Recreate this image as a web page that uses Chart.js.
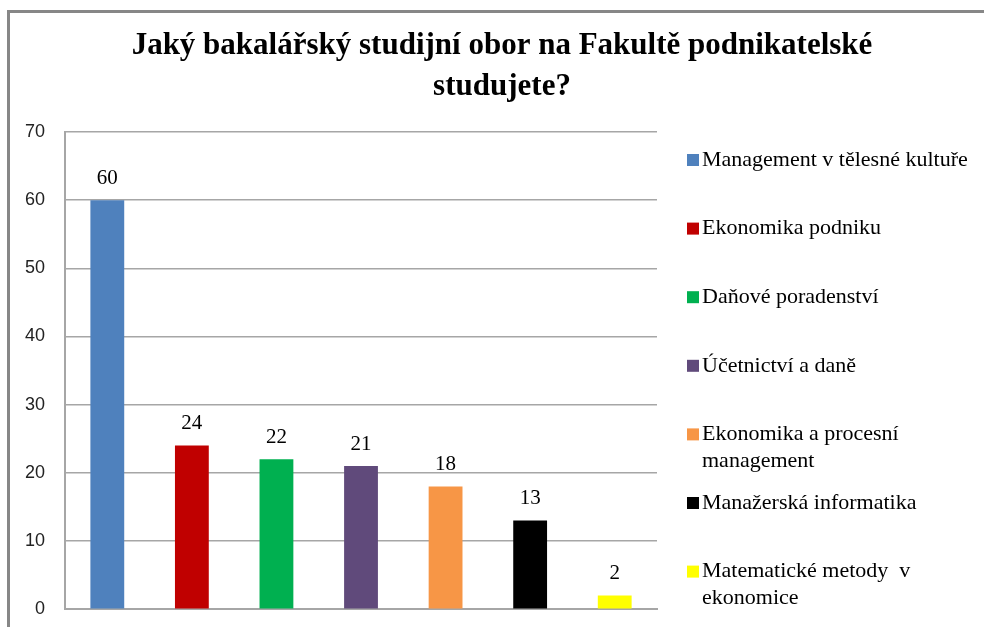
<!DOCTYPE html>
<html>
<head>
<meta charset="utf-8">
<script src="https://cdn.jsdelivr.net/npm/chart.js@4.4.1/dist/chart.umd.min.js"></script>
<style>
html, body { margin: 0; padding: 0; background: #fff; }
#wrap { width: 984px; height: 627px; position: relative; }
</style>
</head>
<body>
<div id="wrap"><canvas id="graf"></canvas></div>
<script>
// data
var titulek = ['Jaký bakalářský studijní obor na Fakultě podnikatelské', 'studujete?'];
var obory = [
	'Management v tělesné kultuře',
	'Ekonomika podniku',
	'Daňové poradenství',
	'Účetnictví a daně',
	'Ekonomika a procesní management',
	'Manažerská informatika',
	'Matematické metody  v ekonomice'
];
var pocty = [60, 24, 22, 21, 18, 13, 2];
var barvy = ['#4F81BD', '#C00000', '#00B050', '#604A7B', '#F79646', '#000000', '#FFFF00'];
var osaY = { min: 0, max: 70, krok: 10 };

function zalom(ctx, text, maxW) {
	var slova = text.split(' ');
	var radky = [];
	var akt = '';
	slova.forEach(function(s) {
		var zkus = akt ? akt + ' ' + s : s;
		if (akt && ctx.measureText(zkus).width > maxW) {
			radky.push(akt);
			akt = s;
		} else {
			akt = zkus;
		}
	});
	if (akt) radky.push(akt);
	return radky;
}

// ramecek + pozadi
const pozadi = {
	id: 'pozadi',
	beforeDraw: (chart) => {
		const {ctx} = chart;
		ctx.save();
		ctx.fillStyle = '#ffffff';
		ctx.fillRect(0, 0, chart.width, chart.height);
		ctx.strokeStyle = '#878787';
		ctx.lineWidth = 3;
		ctx.beginPath();
		ctx.moveTo(8.5, chart.height);
		ctx.lineTo(8.5, 11.5);
		ctx.lineTo(chart.width, 11.5);
		ctx.stroke();
		ctx.restore();
	}
};

// titulek
const nadpis = {
	id: 'nadpis',
	afterDraw: (chart) => {
		const {ctx} = chart;
		ctx.save();
		ctx.fillStyle = '#000';
		ctx.font = 'bold 31px "Liberation Serif"';
		ctx.textAlign = 'center';
		ctx.textBaseline = 'alphabetic';
		titulek.forEach((t, i) => {
			ctx.fillText(t, 502, 54 + i * 41);
		});
		ctx.restore();
	}
};

// hodnoty nad sloupci
const hodnoty = {
	id: 'hodnoty',
	afterDatasetsDraw: (chart) => {
		const {ctx} = chart;
		const meta = chart.getDatasetMeta(0);
		ctx.save();
		ctx.fillStyle = '#000';
		ctx.font = '21px "Liberation Serif"';
		ctx.textAlign = 'center';
		ctx.textBaseline = 'middle';
		meta.data.forEach((bar, i) => {
			ctx.fillText(pocty[i], bar.x, bar.y - 22);
		});
		ctx.restore();
	}
};

// legenda vpravo
const legenda = {
	id: 'legenda',
	afterDraw: (chart) => {
		const {ctx} = chart;
		ctx.save();
		ctx.font = '22px "Liberation Serif"';
		ctx.textBaseline = 'middle';
		ctx.textAlign = 'left';
		obory.forEach((o, i) => {
			var y = 160 + i * 68.6;
			ctx.fillStyle = barvy[i];
			ctx.fillRect(687, y - 6, 12, 12);
			ctx.fillStyle = '#000';
			zalom(ctx, o, 280).forEach((r, j) => {
				ctx.fillText(r, 702, y + j * 27);
			});
		});
		ctx.restore();
	}
};

const chart = new Chart(document.getElementById('graf'), {
	type: 'bar',
	data: {
		labels: obory,
		datasets: [{
			data: pocty,
			backgroundColor: barvy,
			borderWidth: 0,
			barPercentage: 0.4,
			categoryPercentage: 1.0
		}]
	},
	options: {
		responsive: true,
		maintainAspectRatio: false,
		animation: false,
		layout: {
			padding: { left: 18, top: 132, right: 327, bottom: 0 }
		},
		scales: {
			x: {
				grid: { display: false, drawTicks: false },
				ticks: { display: false },
				border: { display: true, color: '#a6a6a6', width: 2 }
			},
			y: {
				min: osaY.min,
				max: osaY.max,
				ticks: {
					stepSize: osaY.krok,
					padding: 7,
					color: '#222',
					font: { family: '"Liberation Sans"', size: 18 }
				},
				grid: { color: '#a6a6a6', lineWidth: 1.5, drawTicks: true, tickLength: 13, tickColor: 'rgba(0,0,0,0)' },
				border: { display: true, color: '#a6a6a6', width: 2 }
			}
		},
		plugins: {
			legend: { display: false },
			title: { display: false },
			tooltip: { enabled: false }
		}
	},
	plugins: [pozadi, nadpis, hodnoty, legenda]
});
</script>
</body>
</html>
